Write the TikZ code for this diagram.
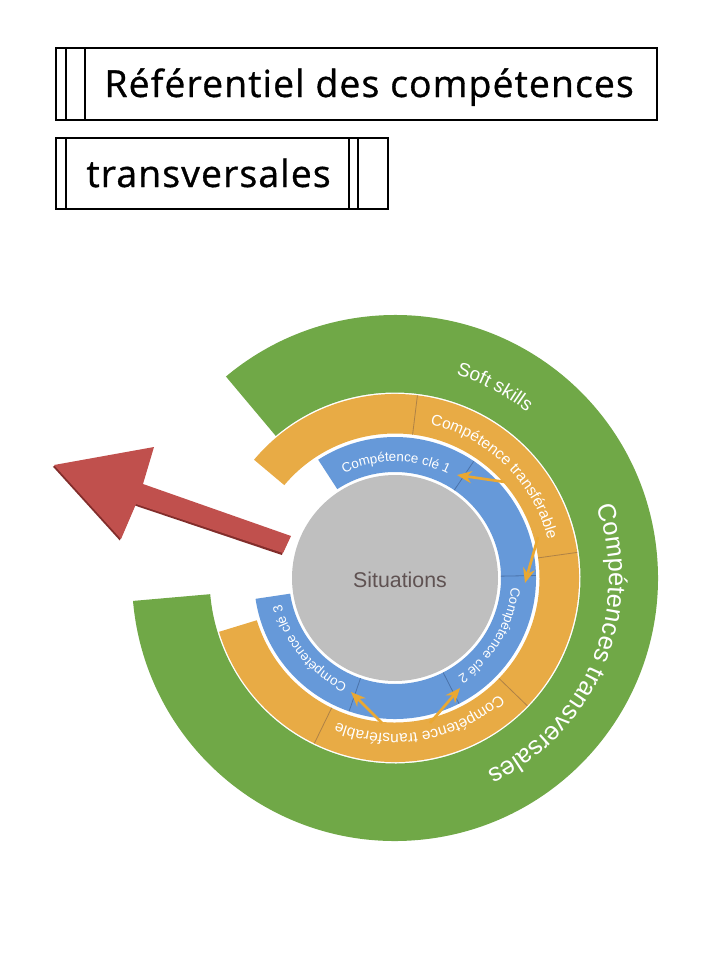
\documentclass[tikz,border=0pt]{standalone}
\usepackage{fontspec}
\setmainfont{Liberation Sans}
\newfontfamily\titlefont[FakeBold=0.9,LetterSpace=3]{Open Sans}
\usetikzlibrary{arrows.meta,decorations.text}

\definecolor{ringgreen}{RGB}{112,168,71}
\definecolor{ringorange}{RGB}{232,171,69}
\definecolor{ringblue}{RGB}{102,153,217}
\definecolor{situgrey}{RGB}{191,191,191}
\definecolor{situtext}{RGB}{95,82,82}
\definecolor{bluediv}{RGB}{75,115,170}
\definecolor{orangediv}{RGB}{175,130,70}
\definecolor{arrowred}{RGB}{192,80,77}
\definecolor{arrowshade}{RGB}{130,45,43}
\definecolor{tipgold}{RGB}{234,168,50}

\tikzset{every picture/.style={line width=0.75pt}}
\tikzset{
  boxline/.style={draw=black, line width=1.5},
  ringtext/.style 2 args={decorate, decoration={text along path, text align=center,
      text={|\color{white}\fontsize{#1}{#1}\selectfont|#2}}},
  tiparrow/.style={draw=tipgold, line width=2, -{Stealth[length=11,width=9]}},
}

\begin{document}
\begin{tikzpicture}[x=0.75pt,y=0.75pt,yscale=-1,xscale=1]
\useasboundingbox (0,0) rectangle (720,960);

%Shape: Rectangle [title box 1]
\draw[boxline] (56,48) rectangle (657,120);
\draw[boxline] (66,48) -- (66,120);
\draw[boxline] (85,48) -- (85,120);
% Text Node
\node (title1) [anchor=base west, inner sep=0pt] at (104,97) {\titlefont\fontsize{28}{32}\selectfont Référentiel des compétences};

%Shape: Rectangle [title box 2]
\draw[boxline] (56,138) rectangle (388,209);
\draw[boxline] (66,138) -- (66,209);
\draw[boxline] (349,138) -- (349,209);
\draw[boxline] (358,138) -- (358,209);
% Text Node
\node (title2) [anchor=base west, inner sep=0pt] at (86,187) {\titlefont\fontsize{28}{32}\selectfont transversales};

%Shape: Polygon [red arrow, shade then body]
\fill[arrowshade] (52.8,466.5) -- (152.8,448.5) -- (141.8,485.5) -- (289.8,537.5) -- (281.8,555) -- (134.8,505.5) -- (119.8,540.5) -- cycle;
\fill[arrowred] (54,465) -- (154,447) -- (143,484) -- (291,536) -- (283,553) -- (136,504) -- (121,539) -- cycle;

\begin{scope}[shift={(395,578)},yscale=-1]
%Shape: Arc [green ring]
\fill[ringgreen] (130:185.5) arc[start angle=130, end angle=-175, radius=185.5] -- (-175:263) arc[start angle=-175, end angle=130, radius=263] -- cycle;
%Shape: Arc [orange ring]
\fill[ringorange] (140:144.5) arc[start angle=140, end angle=-163, radius=144.5] -- (-163:184) arc[start angle=-163, end angle=140, radius=184] -- cycle;
%Shape: Arc [blue ring]
\fill[ringblue] (123:106) arc[start angle=123, end angle=-171.5, radius=106] -- (-171.5:141) arc[start angle=-171.5, end angle=123, radius=141] -- cycle;
%Shape: Circle [situations]
\fill[situgrey] (0,0) circle[radius=103];

%Straight Lines [ring dividers]
\foreach \a in {83,8,-44,-116} \draw[orangediv, line width=0.6] (\a:144.5) -- (\a:184);
\foreach \a in {56,1,-63,-109} \draw[bluediv, line width=0.6] (\a:106) -- (\a:141);

% Curved Text
\path[ringtext={19}{Compétences transversales}] (40:214) arc[start angle=40, end angle=-85, radius=214];
\path[ringtext={14.3}{Soft skills}] (90:212) arc[start angle=90, end angle=34.8, radius=212];
\path[ringtext={11.6}{Compétence transférable}] (83:157.5) arc[start angle=83, end angle=8, radius=157.5];
\path[ringtext={11.6}{Compétence transférable}] (-44:156) arc[start angle=-44, end angle=-116, radius=156];
\path[ringtext={10}{Compétence clé 1}] (123:116.5) arc[start angle=123, end angle=56, radius=116.5];
\path[ringtext={10}{Compétence clé 2}] (1:116.5) arc[start angle=1, end angle=-63, radius=116.5];
\path[ringtext={10}{Compétence clé 3}] (-109:116.5) arc[start angle=-109, end angle=-172, radius=116.5];
\end{scope}

% Text Node
\node (situ) at (400,580) {\color{situtext}\fontsize{16}{19}\selectfont Situations};

%Straight Lines [gold arrows]
\coordinate (from1) at (505,482);
\coordinate (to1) at (457,475);
\coordinate (from2) at (538,537);
\coordinate (to2) at (525,583);
\coordinate (from3) at (382,723);
\coordinate (to3) at (351,692);
\coordinate (from4) at (430,723);
\coordinate (to4) at (460,688);
\draw[tiparrow] (from1) -- (to1);
\draw[tiparrow] (from2) -- (to2);
\draw[tiparrow] (from3) -- (to3);
\draw[tiparrow] (from4) -- (to4);

\end{tikzpicture}
\end{document}
